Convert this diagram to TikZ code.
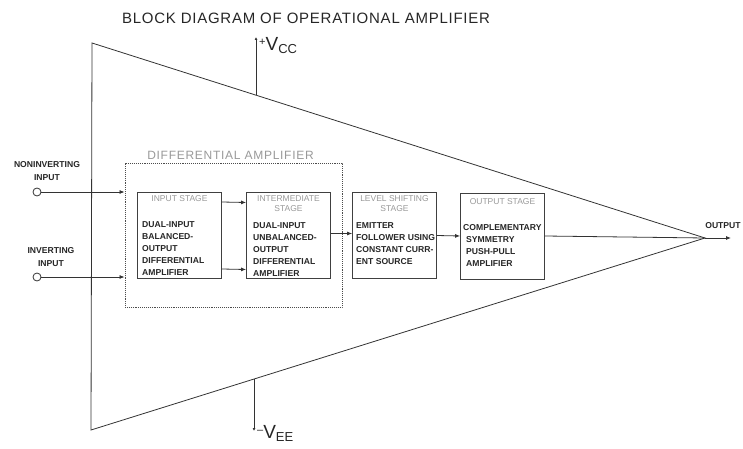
\documentclass[tikz,border=0pt]{standalone}
\usepackage{fontspec}
\setmainfont{Liberation Sans}
\usetikzlibrary{arrows.meta,positioning}

\begin{document}
\begin{tikzpicture}[x=1pt, y=-1pt,
        stagebox/.style={draw=black!75, line width=0.8pt, minimum width=84pt, minimum height=86pt, inner sep=0pt},
        diffbox/.style={draw=black!70, densely dotted, line width=0.9pt, inner sep=0pt},
        head/.style={text=black!40, inner sep=0pt, align=center, font=\fontsize{8.5}{10}\selectfont},
        body/.style={text=black!85, inner sep=0pt, align=left, anchor=north west, font=\bfseries\fontsize{8.6}{12}\selectfont},
        lbl/.style={text=black!85, inner sep=0pt, align=center, font=\bfseries\fontsize{8.6}{12.5}\selectfont},
        line/.style={draw=black!80, line width=0.8pt},
        arrow/.style={line, -{Latex[length=5pt,width=4pt]}}
    ]
    \useasboundingbox (0,0) rectangle (743,449);

    % Titulo
    \node[text=black!85, font=\fontsize{15}{16}\selectfont\addfontfeatures{LetterSpace=5}] (title) at (306,18) {BLOCK DIAGRAM OF OPERATIONAL AMPLIFIER};

    % Triangulo do amplificador
    \coordinate (tl) at (92,43);
    \coordinate (bl) at (91,430);
    \coordinate (apex) at (705,238);
    \draw[line] (tl) -- (apex) -- (bl) -- cycle;

    % Alimentacao
    \coordinate (vccbase) at (256,95);
    \coordinate (vcctop) at (256,37);
    \coordinate (veebase) at (254,379);
    \coordinate (veebot) at (254,431);
    \draw[line, -{Latex[length=3pt,width=3pt]}] (vccbase) -- (vcctop);
    \draw[line, -{Latex[length=3pt,width=3pt]}] (veebase) -- (veebot);
    \node[anchor=west, inner sep=0pt, text=black!85] (vcc) at (259,46)
        {\raisebox{5pt}{\fontsize{11}{11}\selectfont+}\fontsize{19}{19}\selectfont V\raisebox{-3pt}{\fontsize{13}{13}\selectfont CC}};
    \node[anchor=west, inner sep=0pt, text=black!85] (vee) at (257,433)
        {\raisebox{5pt}{\fontsize{11}{11}\selectfont --}\fontsize{19}{19}\selectfont V\raisebox{-3pt}{\fontsize{13}{13}\selectfont EE}};

    % Amplificador diferencial
    \node[diffbox, minimum width=217pt, minimum height=144pt] (diff) at (233.5,235) {};
    \node[text=black!40, inner sep=0pt, font=\fontsize{12}{12}\selectfont\addfontfeatures{LetterSpace=6}, above=3pt of diff.north, xshift=-3pt] (difflbl) {DIFFERENTIAL AMPLIFIER};

    % Estagios
    \node[stagebox] (inp) at (179.5,235) {};
    \node[stagebox] (mid) at (288.5,235.5) {};
    \node[stagebox] (lvl) at (394.5,235.5) {};
    \node[stagebox] (outst) at (502.5,236) {};

    \node[head, below=4pt of inp.north] (inphead) {INPUT STAGE};
    \node[head, below=3pt of mid.north] (midhead) {INTERMEDIATE\\STAGE};
    \node[head, below=3pt of lvl.north] (lvlhead) {LEVEL SHIFTING\\STAGE};
    \node[head, below=6pt of outst.north] (outhead) {OUTPUT STAGE};

    \node[body] (inpbody) at (142,221) {DUAL-INPUT\\BALANCED-\\OUTPUT\\DIFFERENTIAL\\AMPLIFIER};
    \node[body] (midbody) at (253,222) {DUAL-INPUT\\UNBALANCED-\\OUTPUT\\DIFFERENTIAL\\AMPLIFIER};
    \node[body] (lvlbody) at (356,222) {EMITTER\\FOLLOWER USING\\CONSTANT CURR-\\ENT SOURCE};
    \node[body] (outbody) at (463,224) {COMPLEMENTARY\\\hspace*{3pt}SYMMETRY\\\hspace*{3pt}PUSH-PULL\\\hspace*{3pt}AMPLIFIER};

    % Entradas
    \node[draw=black!80, line width=0.8pt, circle, minimum size=8pt, inner sep=0pt] (ni) at (37,192) {};
    \node[draw=black!80, line width=0.8pt, circle, minimum size=8pt, inner sep=0pt] (inv) at (37,277) {};
    \node[lbl] (nilbl) at (47,171) {NONINVERTING\\INPUT};
    \node[lbl] (invlbl) at (51,257) {INVERTING\\INPUT};

    % Setas
    \draw[arrow] (ni) -- (ni -| diff.west);
    \draw[arrow] (inv) -- (inv -| diff.west);
    \draw[arrow] ([yshift=33pt]inp.east) -- ([yshift=33pt]mid.west);
    \draw[arrow] ([yshift=-34pt]inp.east) -- ([yshift=-34pt]mid.west);
    \draw[arrow] ([yshift=2pt]mid.east) -- ([yshift=2pt]lvl.west);
    \draw[arrow] (lvl.east) -- (outst.west);
    \draw[line] (outst.east) -- (apex);

    % Saida
    \coordinate (outend) at (731,238);
    \draw[arrow] (apex) -- (outend);
    \node[lbl] (outlbl) at (723,226) {OUTPUT};

\end{tikzpicture}
\end{document}
